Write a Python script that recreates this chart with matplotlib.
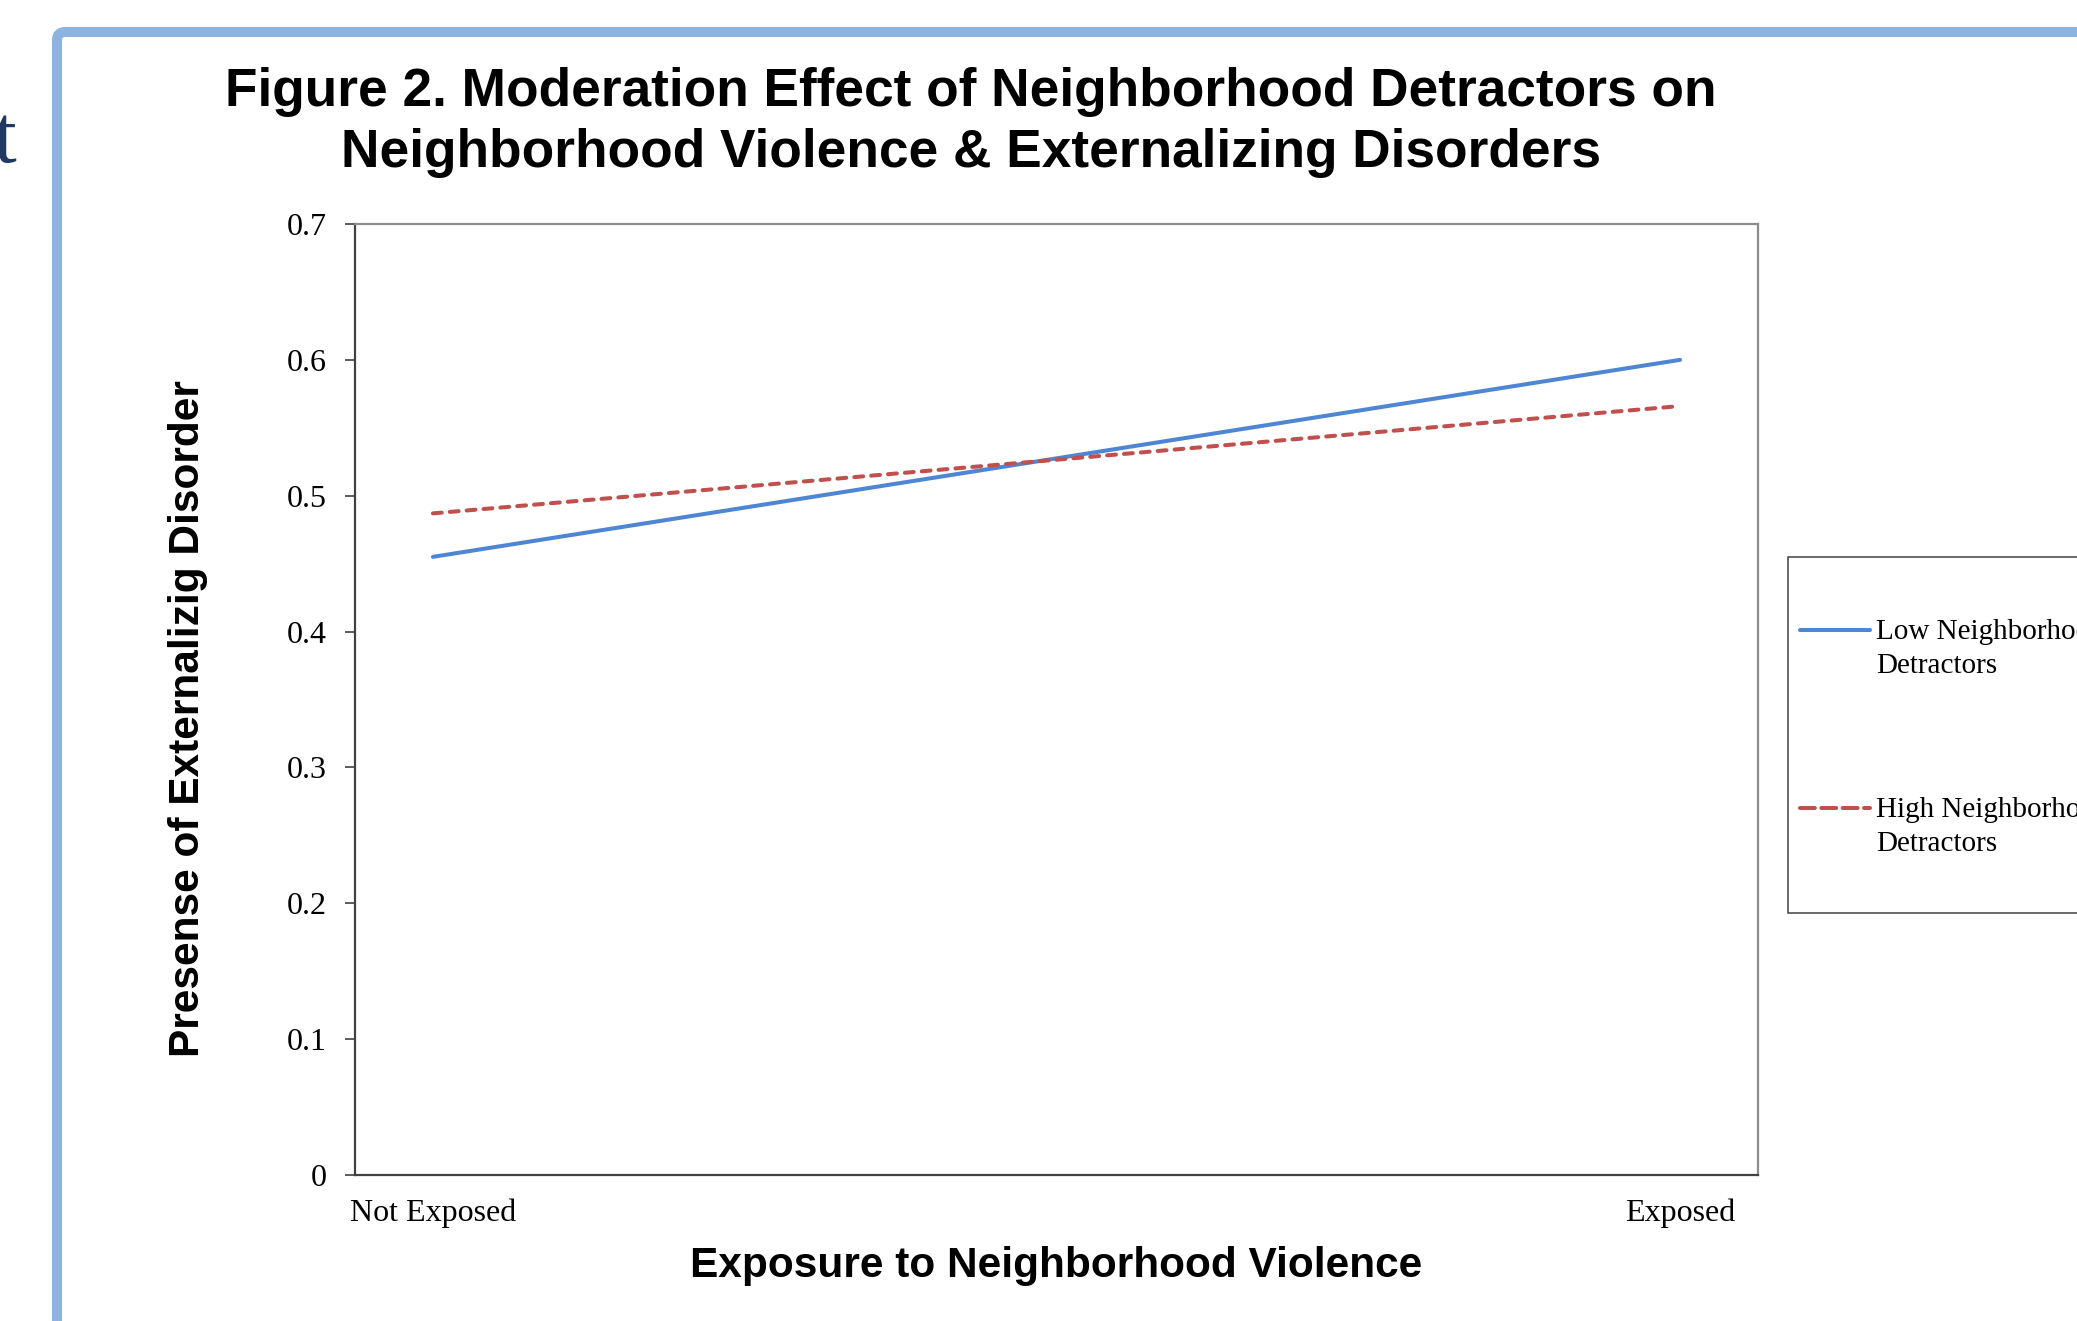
import matplotlib
matplotlib.use("Agg")
import matplotlib.pyplot as plt
from matplotlib.patches import FancyBboxPatch, Rectangle
from matplotlib.lines import Line2D
from matplotlib.transforms import IdentityTransform

# Values
categories = ["Not Exposed", "Exposed"]
low_detractors = [0.455, 0.600]
high_detractors = [0.487, 0.566]
series_names = ["Low Neighborhood\nDetractors", "High Neighborhood\nDetractors"]
y_ticks = [0, 0.1, 0.2, 0.3, 0.4, 0.5, 0.6, 0.7]

BLUE = "#4F86D4"
RED = "#C0504D"
SERIF = "Liberation Serif"
SANS = "Liberation Sans"

W, H = 2077, 1321
fig = plt.figure(figsize=(W / 100, H / 100), dpi=100)
px = IdentityTransform()

# slide frame and stray letter from the slide behind the chart
frame = FancyBboxPatch((57, -100), 2300, H - 32 + 100,
                       boxstyle="round,pad=0,rounding_size=8",
                       transform=px, facecolor="none",
                       edgecolor="#8DB3E2", linewidth=7.2)
fig.patches.append(frame)
fig.text(-7, H - 162, "t", transform=px, fontsize=59, family=SERIF,
         color="#1F3864", va="baseline", ha="left")

ax = fig.add_axes([355 / W, 1 - 1175 / H, (1758 - 355) / W, (1175 - 224) / H])

x = list(range(len(categories)))
ax.plot(x, low_detractors, color=BLUE, lw=2.9, solid_capstyle="round")
ax.plot(x, high_detractors, color=RED, lw=2.9, linestyle=(0, (2.2, 2.0)),
        dash_capstyle="round")

ax.set_xlim(-0.0625, 1.0625)
ax.set_ylim(0, 0.7)
ax.set_xticks(x, categories)
ax.set_yticks(y_ticks, [f"{v:g}" for v in y_ticks])
for lab in ax.get_xticklabels() + ax.get_yticklabels():
    lab.set_family(SERIF)
    lab.set_fontsize(23)
ax.tick_params(axis="y", direction="out", length=7.2, width=1.2,
               color="#404040", pad=13)
ax.tick_params(axis="x", length=0, pad=17)

for side in ["left", "bottom"]:
    ax.spines[side].set_color("#404040")
    ax.spines[side].set_linewidth(1.6)
for side in ["top", "right"]:
    ax.spines[side].set_color("#8C8C8C")
    ax.spines[side].set_linewidth(1.6)

ax.set_xlabel("Exposure to Neighborhood Violence", family=SANS,
              fontweight="bold", fontsize=30.5)
ax.xaxis.set_label_coords(0.5, -0.0747)
ax.set_ylabel("Presense of Externalizig Disorder", family=SANS,
              fontweight="bold", fontsize=30.5)
ax.yaxis.set_label_coords(-0.1048, 0.4795)

# two-line title
fig.text(971 / W, 1 - 106 / H,
         "Figure 2. Moderation Effect of Neighborhood Detractors on",
         ha="center", va="baseline", family=SANS, fontweight="bold",
         fontsize=38.3)
fig.text(971 / W, 1 - 167 / H,
         "Neighborhood Violence & Externalizing Disorders",
         ha="center", va="baseline", family=SANS, fontweight="bold",
         fontsize=38.3)

# legend box, runs off the right edge
fig.patches.append(Rectangle((1788, H - 913), 600, 913 - 557, transform=px,
                             facecolor="white", edgecolor="#404040",
                             linewidth=1.1))
handles = ax.get_lines()
for line, name, ly, base in zip(handles, series_names, [630, 808], [639, 817]):
    key = Line2D([1800, 1870], [H - ly, H - ly], transform=px,
                 color=line.get_color(), lw=line.get_linewidth(),
                 linestyle=line.get_linestyle(),
                 solid_capstyle="round", dash_capstyle="round")
    fig.lines.append(key)
    first, second = name.split("\n")
    fig.text(1876, H - base, first, transform=px, family=SERIF, fontsize=21,
             va="baseline", ha="left")
    fig.text(1876, H - base - 34, second, transform=px, family=SERIF,
             fontsize=21, va="baseline", ha="left")

fig.savefig("out.png", dpi=100)
